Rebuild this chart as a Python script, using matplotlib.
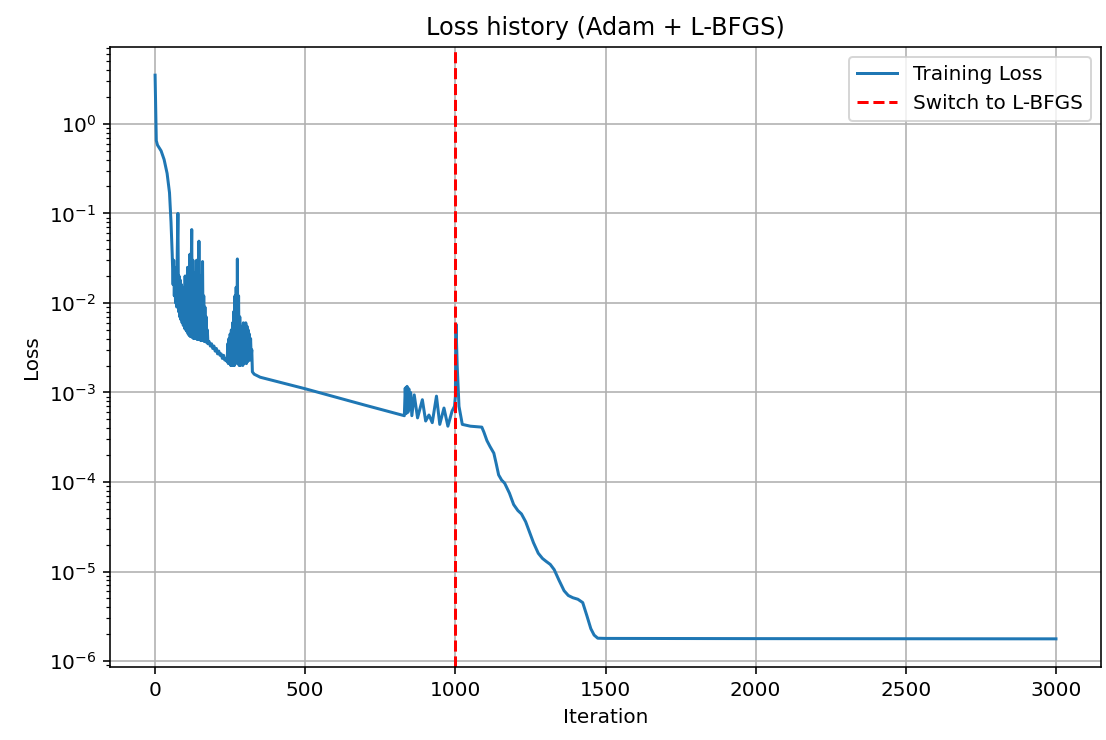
import matplotlib.pyplot as plt

# Adam phase (iteration, loss)
# initial drop
start_iter = [0, 2, 4, 8, 20, 30, 40, 48, 53, 57]
start_loss = [3.5, 1.5, 0.65, 0.58, 0.5, 0.4, 0.28, 0.17, 0.08, 0.035]

# first noisy band (dense oscillation)
band1_iter = [60, 62, 64, 66, 68, 70, 72, 74, 76, 78, 80, 82, 84, 86, 88, 90, 92, 94, 96, 98,
              100, 102, 104, 106, 108, 110, 112, 114, 116, 118, 120, 122, 124, 126, 128, 130,
              132, 134, 136, 138, 140, 142, 144, 146, 148, 150, 152, 154, 156, 158, 160, 162,
              164, 166, 168, 170, 172, 174, 176,
              180, 184, 188, 192, 196, 200, 204, 208, 212, 216, 220, 224, 228, 232, 236]
band1_loss = [0.016, 0.03, 0.012, 0.025, 0.01, 0.02, 0.009, 0.04, 0.1, 0.008, 0.02, 0.007,
              0.018, 0.0065, 0.016, 0.006, 0.015, 0.0056, 0.014, 0.0052,
              0.02, 0.005, 0.016, 0.0048, 0.025, 0.0045, 0.018, 0.0043, 0.035, 0.0042, 0.02,
              0.066, 0.0041, 0.03, 0.004, 0.015,
              0.004, 0.022, 0.004, 0.03, 0.0039, 0.02, 0.0039, 0.049, 0.0039, 0.015, 0.0038,
              0.02, 0.0038, 0.029, 0.0038, 0.012,
              0.0037, 0.009, 0.0037, 0.007, 0.0036, 0.005, 0.0035,
              0.0037, 0.0033, 0.0035, 0.0031, 0.0033, 0.0029, 0.0031, 0.0027, 0.0029, 0.0026,
              0.0027, 0.0024, 0.0026, 0.0023, 0.0024]

# second noisy band
band2_iter = [240, 242, 244, 246, 248, 250, 252, 254, 256, 258, 260, 262, 264, 266, 268, 270,
              272, 274, 276, 278, 280, 282, 284, 286, 288, 290, 292, 294, 296, 298, 300, 302,
              304, 306, 308, 310, 312, 314, 316, 318, 320, 322, 324]
band2_loss = [0.0022, 0.0035, 0.0021, 0.004, 0.0021, 0.0045, 0.002, 0.005, 0.002, 0.006,
              0.002, 0.008, 0.002, 0.012, 0.0021, 0.015, 0.0022, 0.031, 0.0021, 0.012, 0.002,
              0.007, 0.002, 0.005, 0.0021, 0.0055, 0.002, 0.006, 0.0021, 0.005, 0.0022, 0.006,
              0.0021, 0.0055, 0.0022, 0.005, 0.0023, 0.0045, 0.0023, 0.004, 0.0025, 0.003, 0.0017]

# slow decline, then the noisy stretch before the switch
tail_iter = [330, 350, 500, 700, 830,
             833, 836, 839, 842, 845, 848, 851, 855, 863, 874, 890, 901, 912, 923, 937, 948,
             962, 975, 989, 997]
tail_loss = [0.0016, 0.00148, 0.0011, 0.00072, 0.00055,
             0.00112, 0.00058, 0.00117, 0.0006, 0.0011, 0.00065, 0.001, 0.00055, 0.00094,
             0.00052, 0.00083, 0.00048, 0.00056, 0.00046, 0.00091, 0.00044,
             0.00067, 0.00042, 0.00062, 0.0007]

# L-BFGS phase
lbfgs_iter = [1000, 1002, 1006, 1012, 1023, 1050, 1088, 1095, 1105, 1115, 1128, 1136, 1144,
              1154, 1164, 1180, 1194, 1208, 1220, 1234, 1246, 1260, 1276, 1290, 1302, 1316,
              1329, 1345, 1362, 1376, 1391, 1408, 1424, 1438, 1451, 1462, 1474, 1500, 2000, 3000]
lbfgs_loss = [0.0009, 0.0058, 0.002, 0.0007, 0.00044, 0.00042, 0.00041, 0.00036, 0.00029,
              0.00025, 0.00021, 0.00016, 0.00012, 0.000105, 9.7e-05, 7.5e-05, 5.6e-05, 4.8e-05,
              4.4e-05, 3.6e-05, 2.8e-05, 2.1e-05, 1.6e-05, 1.4e-05, 1.3e-05, 1.2e-05, 1.05e-05,
              8e-06, 6.1e-06, 5.4e-06, 5.1e-06, 4.9e-06, 4.5e-06, 3.2e-06, 2.3e-06, 1.95e-06,
              1.8e-06, 1.79e-06, 1.78e-06, 1.77e-06]

switch_iter = 1000

iters = start_iter + band1_iter + band2_iter + tail_iter + lbfgs_iter
losses = start_loss + band1_loss + band2_loss + tail_loss + lbfgs_loss

fig, ax = plt.subplots(figsize=(1106 / 144, 740 / 144), dpi=144)
fig.subplots_adjust(left=0.0995, right=0.9955, top=0.9365, bottom=0.0986)

ax.plot(iters, losses, label='Training Loss')
ax.axvline(switch_iter, color='red', linestyle='--', label='Switch to L-BFGS')
ax.set_yscale('log')
ax.set_xlabel('Iteration')
ax.set_ylabel('Loss')
ax.set_title('Loss history (Adam + L-BFGS)')
ax.legend()
ax.grid(True)

fig.savefig('out.png', dpi=144)
